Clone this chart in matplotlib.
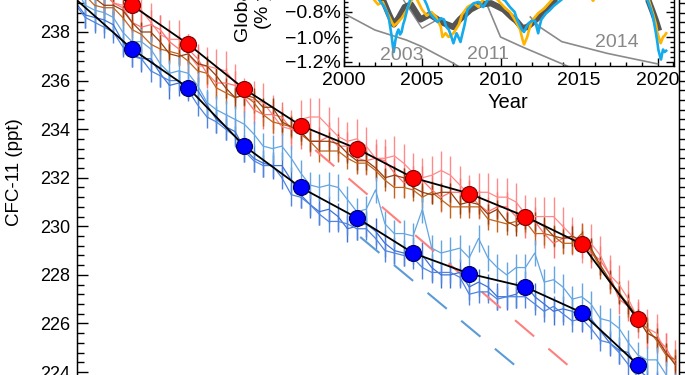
import numpy as np
import matplotlib
matplotlib.use('Agg')
import matplotlib.pyplot as plt
from matplotlib.ticker import MultipleLocator, FuncFormatter

plt.rcParams['font.family'] = ['Liberation Sans', 'DejaVu Sans']


"""
annual means (circles), NH = red, SH = blue
"""
years = [2009.5, 2010.5, 2011.5, 2012.5, 2013.5, 2014.5,
         2015.5, 2016.5, 2017.5, 2018.5, 2019.5]
nh_annual = [240.8, 239.1, 237.5, 235.65, 234.15, 233.2,
             232.0, 231.35, 230.4, 229.27, 226.18]
sh_annual = [239.35, 237.3, 235.7, 233.3, 231.6, 230.35,
             228.9, 228.05, 227.5, 226.45, 224.3]

"""
station records, every two months from mid 2009
"""
t = 2009.5 + np.arange(65) / 6.0

nh_pink_a = [240.6, 240.5, 240.1, 239.6, 239.2, 239.1,
             239.1, 238.9, 238.4, 237.9, 237.7, 237.7,
             237.1, 236.6, 236.6, 236.5, 236.4, 235.9,
             235.3, 235.2, 235.1, 234.6, 234.1, 234.0,
             234.4, 234.5, 234.5, 234.1, 233.7, 233.5,
             233.6, 233.3, 232.8, 232.8, 232.9, 232.6,
             232.2, 232.0, 232.1, 232.3, 232.1, 231.7,
             231.3, 231.4, 231.4, 231.2, 231.2, 231.0,
             230.5, 230.4, 230.4, 230.4, 230.0, 229.6,
             229.3, 229.3, 228.8, 228.0, 227.6, 227.0,
             226.2, 225.8, 225.6, 224.8, 224.5]
nh_pink_b = [240.2, 240.1, 240.1, 239.6, 239.2, 239.0,
             238.4, 238.2, 238.3, 238.1, 237.6, 237.3,
             237.3, 236.9, 236.3, 235.9, 235.9, 235.8,
             235.3, 234.8, 234.6, 234.6, 234.5, 234.0,
             233.8, 233.5, 233.5, 233.7, 233.3, 233.3,
             232.8, 232.7, 232.8, 232.7, 232.2, 231.8,
             231.9, 231.9, 231.5, 231.2, 231.4, 231.4,
             231.3, 230.9, 230.6, 230.8, 230.8, 230.4,
             230.1, 230.2, 229.7, 229.3, 229.5, 229.5,
             229.3, 228.9, 228.6, 228.0, 227.0, 226.7,
             226.3, 225.6, 225.4, 225.0, 224.3]
nh_brown_a = [240.0, 239.5, 239.1, 239.0, 239.0, 238.6,
              238.1, 237.9, 237.5, 237.3, 237.2, 237.1,
              236.8, 236.4, 236.3, 235.7, 235.5, 235.3,
              235.4, 235.1, 234.6, 234.3, 234.2, 234.1,
              233.8, 233.5, 233.1, 233.1, 233.1, 232.8,
              232.6, 232.6, 232.3, 231.9, 231.6, 231.6,
              231.5, 231.2, 231.4, 231.1, 230.8, 230.8,
              230.8, 230.8, 230.3, 230.2, 230.1, 230.2,
              230.2, 229.7, 229.7, 229.6, 229.3, 229.3,
              229.7, 229.0, 228.3, 227.7, 227.3, 226.7,
              226.1, 225.8, 225.3, 224.7, 224.5]
nh_brown_b = [240.1, 239.9, 239.4, 239.1, 239.1, 238.9,
              238.4, 238.0, 238.0, 237.6, 237.1, 237.0,
              237.1, 236.7, 236.6, 236.2, 235.7, 235.3,
              235.4, 235.3, 234.9, 234.9, 234.3, 234.1,
              233.9, 233.5, 233.5, 233.5, 233.4, 233.0,
              232.7, 232.7, 232.4, 232.0, 232.1, 232.0,
              231.6, 231.4, 231.3, 231.4, 231.4, 230.9,
              231.0, 230.9, 230.5, 230.7, 230.2, 230.0,
              230.3, 230.2, 230.0, 229.6, 229.5, 229.6,
              229.4, 229.1, 228.4, 227.8, 227.2, 226.8,
              226.2, 225.6, 225.4, 224.8, 224.3]
sh_blue_a = [239.2, 238.7, 238.6, 238.5, 238.3, 237.6,
             237.1, 236.9, 236.9, 236.3, 235.8, 235.9,
             235.8, 235.6, 235.0, 234.4, 234.1, 233.9,
             233.2, 232.8, 232.6, 232.5, 232.5, 231.9,
             231.3, 230.9, 230.6, 230.7, 230.4, 229.9,
             230.0, 230.1, 229.8, 229.3, 229.0, 228.9,
             229.0, 228.8, 228.3, 228.0, 228.0, 228.1,
             227.5, 227.7, 227.5, 227.1, 227.1, 227.2,
             227.6, 227.1, 226.8, 226.5, 226.6, 226.5,
             226.2, 226.2, 225.7, 225.2, 224.9, 224.8,
             224.1, 223.8, 223.5, 223.3, 222.9]
sh_blue_b = [239.1, 238.6, 238.4, 238.2, 238.0, 237.4,
             237.0, 236.9, 236.4, 236.2, 236.0, 236.0,
             235.6, 235.0, 234.5, 234.3, 234.0, 233.7,
             233.1, 232.7, 232.5, 232.5, 232.0, 231.3,
             231.2, 230.9, 230.5, 230.2, 230.2, 230.1,
             229.9, 229.9, 229.5, 229.0, 228.9, 228.8,
             228.7, 228.3, 228.1, 228.1, 228.1, 227.9,
             227.2, 227.3, 227.3, 227.0, 227.1, 227.1,
             227.1, 226.8, 226.5, 226.7, 226.4, 226.1,
             226.2, 225.8, 225.3, 225.2, 224.8, 224.3,
             223.8, 223.6, 223.5, 223.0, 222.5]
sh_light = [239.8, 239.1, 238.9, 238.8, 238.6, 238.0,
            237.6, 237.6, 237.3, 236.7, 236.3, 236.4,
            236.3, 235.8, 235.1, 234.8, 234.6, 234.4,
            234.2, 233.8, 233.3, 233.2, 233.3, 232.8,
            232.2, 231.7, 231.6, 231.7, 231.6, 231.1,
            230.6, 230.7, 231.5, 230.1, 229.7, 229.7,
            229.6, 230.7, 229.1, 228.9, 229.0, 229.1,
            228.7, 229.5, 228.7, 228.3, 228.0, 228.3,
            228.3, 228.9, 227.7, 227.8, 227.5, 227.0,
            227.1, 226.8, 226.2, 226.1, 225.8, 225.2,
            224.7, 224.5, 224.5, 223.9, 223.4]

# expected decline without new emissions (dashed)
nh_dash_years = [2013.76, 2018.5]
nh_dash = [233.14, 223.8]
sh_dash_years = [2014.56, 2017.9]
sh_dash = [229.56, 223.15]

"""
inset: global growth rate (%/yr)
"""
band_yr = [2000.0, 2001.0, 2002.0, 2002.5, 2002.9, 2003.2, 2003.5, 2003.9, 2004.3,
           2004.9, 2005.5, 2006.0, 2006.4, 2007.0, 2007.4, 2008.1, 2008.7, 2009.4,
           2010.2, 2010.7, 2011.0, 2011.4, 2011.7, 2012.0, 2012.7, 2013.5, 2014.0,
           2015.0, 2016.0, 2017.0, 2018.0, 2019.0, 2019.4, 2019.7, 2019.9, 2020.1]
band_val = [-0.55, -0.58, -0.62, -0.70, -0.82, -0.90, -0.85, -0.76, -0.74,
            -0.86, -0.82, -0.86, -0.89, -0.92, -0.86, -0.78, -0.74, -0.73,
            -0.78, -0.84, -0.87, -0.93, -0.92, -0.89, -0.81, -0.70, -0.62,
            -0.55, -0.52, -0.55, -0.58, -0.62, -0.70, -0.80, -0.87, -0.95]

yel_yr = [2000.0, 2001.0, 2001.8, 2002.2, 2002.5, 2002.8, 2003.0, 2003.2, 2003.4,
          2003.7, 2004.0, 2004.35, 2004.6, 2005.0, 2005.3, 2005.6, 2005.9, 2006.2,
          2006.3, 2006.5, 2006.7, 2007.0, 2007.35, 2007.55, 2007.9, 2008.3, 2008.6,
          2008.9, 2009.3, 2009.8, 2010.3, 2010.6, 2010.8, 2011.0, 2011.25, 2011.4,
          2011.5, 2011.7, 2011.85, 2012.0, 2012.2, 2012.4, 2012.6, 2012.8, 2013.3,
          2013.8, 2014.5, 2015.5, 2015.9, 2016.3, 2017.0, 2018.0, 2019.0, 2019.43,
          2019.6, 2019.75, 2019.9, 2020.0, 2020.1, 2020.2, 2020.35, 2020.45, 2020.55]
yel_val = [-0.60, -0.62, -0.68, -0.74, -0.72, -0.81, -0.86, -0.91, -0.89,
           -0.85, -0.79, -0.70, -0.68, -0.78, -0.83, -0.80, -0.84, -0.92,
           -1.00, -0.97, -1.00, -0.97, -0.90, -0.82, -0.76, -0.73, -0.76,
           -0.70, -0.66, -0.70, -0.77, -0.80, -0.84, -0.88, -0.94, -1.02,
           -1.06, -1.00, -0.93, -0.87, -0.84, -0.81, -0.79, -0.77, -0.70,
           -0.63, -0.58, -0.65, -0.71, -0.62, -0.55, -0.58, -0.62, -0.70,
           -0.77, -0.83, -0.90, -0.97, -1.01, -1.05, -1.00, -0.99, -0.97]

cyan_yr = [2000.0, 2001.0, 2002.0, 2002.55, 2002.75, 2002.9, 2003.05, 2003.15, 2003.2,
           2003.3, 2003.4, 2003.5, 2003.6, 2003.7, 2003.8, 2003.9, 2004.1, 2004.3,
           2005.0, 2005.3, 2005.5, 2005.7, 2006.0, 2006.2, 2006.4, 2006.55, 2006.7,
           2006.85, 2007.0, 2007.1, 2007.2, 2007.35, 2007.45, 2007.6, 2007.7, 2007.9,
           2008.3, 2008.6, 2008.9, 2009.2, 2009.7, 2010.3, 2010.6, 2010.9, 2011.05,
           2011.2, 2011.35, 2011.5, 2011.65, 2011.8, 2012.0, 2012.2, 2012.3, 2012.4,
           2012.5, 2012.6, 2012.9, 2013.1, 2013.4, 2013.9, 2014.5, 2016.0, 2018.0,
           2019.0, 2019.35, 2019.55, 2019.7, 2019.8, 2019.9, 2020.0, 2020.05, 2020.15,
           2020.22, 2020.3, 2020.35, 2020.45, 2020.55]
cyan_val = [-0.62, -0.60, -0.66, -0.75, -0.80, -0.86, -0.98, -1.08, -1.12,
            -1.03, -0.97, -0.94, -0.98, -0.96, -0.90, -0.86, -0.76, -0.68,
            -0.66, -0.74, -0.81, -0.84, -0.88, -0.85, -0.86, -0.92, -0.94,
            -0.99, -1.05, -1.01, -0.97, -1.01, -1.04, -0.96, -0.91, -0.78,
            -0.73, -0.72, -0.76, -0.70, -0.66, -0.71, -0.76, -0.80, -0.86,
            -0.90, -0.94, -0.96, -0.92, -0.89, -0.87, -0.87, -0.92, -0.97,
            -0.91, -0.86, -0.81, -0.79, -0.75, -0.70, -0.62, -0.55, -0.60,
            -0.64, -0.70, -0.77, -0.83, -0.90, -0.97, -1.05, -1.10, -1.15,
            -1.18, -1.13, -1.10, -1.12, -1.11]

# projections started in 2003, 2011 and 2014
proj_2003_yr = [2000.0, 2001.0, 2002.0, 2003.0, 2004.0, 2005.0, 2006.0, 2007.0, 2007.5]
proj_2003 = [-0.81, -0.877, -0.944, -0.984, -1.024, -1.077, -1.144, -1.21, -1.25]
proj_2011_yr = [2008.9, 2009.2, 2010.0, 2011.4, 2014.3]
proj_2011 = [-0.72, -0.76, -1.00, -1.08, -1.235]
proj_2014_yr = [2011.9, 2012.5, 2013.9, 2016.8, 2020.0]
proj_2014 = [-0.84, -0.92, -1.037, -1.131, -1.215]
extra_gray_yr = [2003.8, 2005.0, 2006.0, 2007.0, 2008.0]
extra_gray = [-0.70, -0.93, -0.86, -0.90, -0.75]

proj_labels = ['2003', '2011', '2014']
proj_label_x = [2003.73, 2009.20, 2017.42]
proj_label_y = [-1.152, -1.14, -1.044]


fig = plt.figure(figsize=(6.85, 3.75), dpi=100)

# main panel runs past the top and bottom of the picture
ax = fig.add_axes([77 / 685, -45 / 375, 602 / 685, 440 / 375])
ax.set_xlim(2009.521, 2020.233)
ax.set_ylim(222.024, 240.141)

ebar = dict(capsize=0, lw=0.9, elinewidth=1.0)
ax.errorbar(t, nh_pink_a, yerr=0.8, color='#ff8a8a', **ebar)
ax.errorbar(t, nh_pink_b, yerr=0.6, color='#ff7373', **ebar)
ax.errorbar(t, nh_brown_a, yerr=0.45, color='#c0641e', **ebar)
ax.errorbar(t, nh_brown_b, yerr=0.4, color='#94400f', **ebar)
ax.errorbar(t, sh_blue_a, yerr=0.55, color='#3f72d6', **ebar)
ax.errorbar(t, sh_blue_b, yerr=0.45, color='#4f84e0', **ebar)
ax.errorbar(t, sh_light, yerr=0.55, color='#65a5e2', **ebar)

ax.plot(nh_dash_years, nh_dash, color='#ff7f7f', lw=1.5, dashes=(12, 9))
ax.plot(sh_dash_years, sh_dash, color='#5b9bd8', lw=1.5, dashes=(12, 9))

shown = list(range(1, len(years)))
ax.plot(years, nh_annual, color='black', lw=1.3, marker='o', ms=11.5,
        mfc='#ff0000', mec='#7a0000', mew=0.8, markevery=shown, zorder=5)
ax.plot(years, sh_annual, color='black', lw=1.3, marker='o', ms=11.5,
        mfc='#0000ff', mec='#00005a', mew=0.8, markevery=shown, zorder=5)

ax.set_xticks([])
ax.yaxis.set_major_locator(MultipleLocator(2))
ax.yaxis.set_minor_locator(MultipleLocator(0.4))
ax.tick_params(axis='y', which='major', direction='in', length=8, width=1,
               labelsize=13, pad=5)
ax.tick_params(axis='y', which='minor', direction='in', length=5, width=1)
for s in ax.spines.values():
    s.set_linewidth(1.0)

# right hand axis has outward ticks only
ax_r = ax.twinx()
ax_r.set_ylim(ax.get_ylim())
ax_r.yaxis.set_major_locator(MultipleLocator(0.4))
ax_r.tick_params(axis='y', direction='out', length=4, width=1, labelright=False)
ax_r.set_xticks([])

fig.text(15 / 685, 1 - 172 / 375, 'CFC-11 (ppt)', rotation=90,
         ha='center', va='center', fontsize=13.5)

"""
inset
"""
ax_in = fig.add_axes([343.5 / 685, (375 - 66) / 375, 330.5 / 685, 186 / 375])
ax_in.set_zorder(10)
ax_in.set_facecolor('white')
ax_in.set_xlim(2000, 2021.05)
ax_in.set_ylim(-1.232, 0.256)

gray = '#8a8a8a'
ax_in.plot(proj_2003_yr, proj_2003, color=gray, lw=1.2)
ax_in.plot(proj_2011_yr, proj_2011, color=gray, lw=1.2)
ax_in.plot(proj_2014_yr, proj_2014, color=gray, lw=1.2)
ax_in.plot(extra_gray_yr, extra_gray, color=gray, lw=1.0)
ax_in.plot(band_yr, band_val, color='#555555', lw=4.5, solid_capstyle='butt')
ax_in.plot(yel_yr, yel_val, color='#ffb400', lw=1.9)
ax_in.plot(cyan_yr, cyan_val, color='#14aaec', lw=1.9)

for lab, lx, ly in zip(proj_labels, proj_label_x, proj_label_y):
    ax_in.text(lx, ly, lab, color='#888888', fontsize=14, ha='center', va='center')

ax_in.xaxis.set_major_locator(MultipleLocator(5))
ax_in.xaxis.set_minor_locator(MultipleLocator(1))
ax_in.yaxis.set_major_locator(MultipleLocator(0.2))
ax_in.yaxis.set_minor_locator(MultipleLocator(0.04))
ax_in.yaxis.set_major_formatter(
    FuncFormatter(lambda v, p: ('%.1f%%' % v).replace('-', '\u2212')))
ax_in.tick_params(which='both', direction='in', top=True, right=True, width=1)
ax_in.tick_params(which='major', length=6, labelsize=14)
ax_in.tick_params(which='minor', length=3)
ax_in.tick_params(axis='y', pad=2)
ax_in.tick_params(axis='x', pad=4)
for s in ax_in.spines.values():
    s.set_linewidth(1.0)

fig.text(508 / 685, 1 - 102 / 375, 'Year', ha='center', va='center', fontsize=14.5)
fig.text(248 / 685, 1 - 42 / 375, 'Global growth rate', rotation=90,
         rotation_mode='anchor', ha='left', va='baseline', fontsize=14)
fig.text(269 / 685, 1 - 30 / 375, '(% yr$^{-1}$)', rotation=90,
         rotation_mode='anchor', ha='left', va='baseline', fontsize=14)

fig.savefig('out.png', dpi=100)
